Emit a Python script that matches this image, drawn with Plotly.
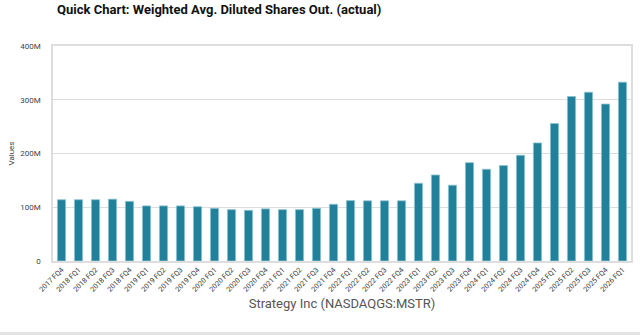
import plotly.graph_objects as go

categories = ["2017 FQ4",
              "2018 FQ1", "2018 FQ2", "2018 FQ3", "2018 FQ4",
              "2019 FQ1", "2019 FQ2", "2019 FQ3", "2019 FQ4",
              "2020 FQ1", "2020 FQ2", "2020 FQ3", "2020 FQ4",
              "2021 FQ1", "2021 FQ2", "2021 FQ3", "2021 FQ4",
              "2022 FQ1", "2022 FQ2", "2022 FQ3", "2022 FQ4",
              "2023 FQ1", "2023 FQ2", "2023 FQ3", "2023 FQ4",
              "2024 FQ1", "2024 FQ2", "2024 FQ3", "2024 FQ4",
              "2025 FQ1", "2025 FQ2", "2025 FQ3", "2025 FQ4",
              "2026 FQ1"]
# values in millions of shares
shares_m = [114,
            114, 114, 115, 111,
            102.5, 102.5, 102.5, 101,
            98, 95.5, 94.3, 97,
            95.5, 95.5, 98, 105.5,
            112.4, 112, 112, 112,
            144.6, 160, 141, 183,
            170.7, 177.5, 196.7, 219.7,
            255.7, 306, 314, 292,
            332.7]
tick_vals = [0, 100e6, 200e6, 300e6, 400e6]
tick_text = ["0", "100M", "200M", "300M", "400M"]

values = [v * 1e6 for v in shares_m]

fig = go.Figure(go.Bar(
    x=categories, y=values,
    marker=dict(color="#21809A", line=dict(color="#8CC3D0", width=0.8)),
    width=0.48,
))

fig.update_layout(
    width=640, height=335,
    margin=dict(l=53, r=7, t=46, b=74),
    paper_bgcolor="white", plot_bgcolor="white",
    font=dict(family="Roboto, Arial, sans-serif", color="#444"),
    showlegend=False,
    title=dict(text="<b>Quick Chart: Weighted Avg. Diluted Shares Out. (actual)</b>",
               x=0, xref="paper", xanchor="left", y=1, yref="container", yanchor="top",
               font=dict(size=13, color="#111", family="Roboto, Arial, sans-serif"),
               pad=dict(l=4, t=5)),
    xaxis=dict(
        tickangle=-45, tickfont=dict(size=7.2, color="#333"),
        showline=True, linecolor="#DDDDDD", linewidth=1.5, mirror=True,
        ticks="", showgrid=False,
        title=dict(text="Strategy Inc (NASDAQGS:MSTR)", font=dict(size=13, color="#555"), standoff=6),
    ),
    yaxis=dict(
        range=[0, 400e6], tickvals=tick_vals, ticktext=tick_text,
        tickfont=dict(size=8, color="#444"),
        showgrid=True, gridcolor="#DDDDDD", gridwidth=1.2,
        showline=True, linecolor="#DDDDDD", linewidth=1.5, mirror=True,
        zeroline=False, ticks="", ticklabelstandoff=9,
        title=dict(text="Values", font=dict(size=8, color="#444"), standoff=4),
    ),
)

fig.add_shape(type="rect", xref="paper", yref="paper",
              x0=-0.2, x1=1.1, y0=-0.345, y1=-0.330,
              line=dict(width=0), fillcolor="#E3E3E3", layer="below")

fig.write_html("out.html")
